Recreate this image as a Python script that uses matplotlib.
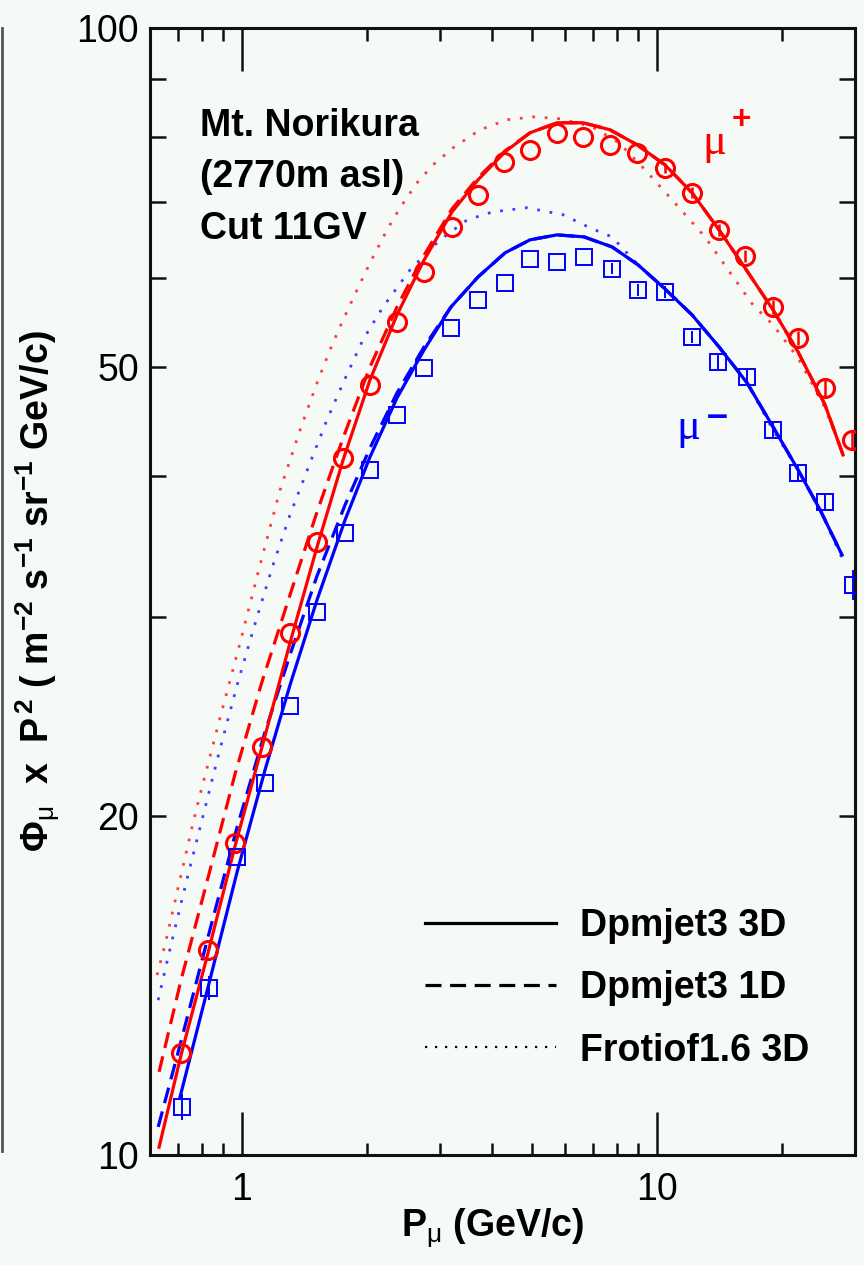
import numpy as np
import matplotlib.pyplot as plt
from matplotlib.lines import Line2D

plt.rcParams['font.family'] = ['Liberation Sans', 'DejaVu Sans']
plt.rcParams['mathtext.fontset'] = 'custom'
plt.rcParams['mathtext.rm'] = 'Liberation Sans:bold'
plt.rcParams['mathtext.it'] = 'Liberation Sans'
plt.rcParams['mathtext.bf'] = 'Liberation Sans:bold'

# measured points (mu+ circles, mu- squares)
p_plus = [0.713, 0.828, 0.962, 1.117, 1.305, 1.516, 1.752, 2.034, 2.363, 2.746, 3.207, 3.705, 4.279,
          4.943, 5.741, 6.633, 7.703, 8.950, 10.45, 12.14, 14.10, 16.29, 19.03, 21.87, 25.40, 29.51]
f_plus = [12.32, 15.20, 18.92, 23.01, 29.05, 34.99, 41.53, 48.22, 54.84, 60.74, 66.60, 71.11, 76.05,
          77.94, 80.70, 80.05, 78.75, 77.47, 75.13, 71.41, 66.20, 62.75, 56.55, 53.07, 47.93, 43.09]
e_plus = [0, 0, 0, 0, 0, 0, 0, 0, 0, 0, 0, 0, 0,
          0, 0, 0, 0, 0, 0.8, 0.8, 0.8, 0.8, 0.8, 0.8, 0.8, 0.8]

p_minus = [0.717, 0.833, 0.973, 1.136, 1.305, 1.516, 1.771, 2.034, 2.363, 2.746, 3.189, 3.705, 4.303,
           4.943, 5.741, 6.670, 7.791, 9.000, 10.45, 12.14, 14.03, 16.48, 19.03, 21.87, 25.40, 29.67]
f_minus = [11.03, 14.07, 18.38, 21.38, 25.02, 30.33, 35.64, 40.54, 45.36, 49.93, 54.18, 57.38, 59.39,
           62.37, 62.00, 62.63, 61.12, 58.54, 58.30, 53.18, 50.53, 49.00, 43.98, 40.29, 37.96, 32.05]
e_minus = [0.3, 0.35, 0, 0, 0, 0, 0, 0, 0, 0, 0, 0, 0,
           0, 0, 0, 0.7, 0.7, 0.7, 0.7, 0.7, 0.7, 0.7, 0.7, 0.7, 1.0]

# Dpmjet3 3D
x_d3_plus = [0.631, 0.713, 0.828, 0.962, 1.117, 1.305, 1.516, 1.752, 2.034, 2.363, 2.730, 3.207, 3.705, 4.303,
             4.943, 5.741, 6.633, 7.703, 8.950, 10.45, 12.14, 14.10, 16.29, 19.03, 21.87, 25.40, 28.07]
y_d3_plus = [10.16, 12.27, 15.11, 18.80, 23.01, 28.47, 34.63, 41.37, 48.72, 55.64, 62.00, 68.67, 73.31, 77.62,
             80.70, 82.37, 82.37, 81.20, 78.75, 75.58, 71.41, 66.20, 61.24, 56.21, 51.58, 46.29, 41.79]
x_d3_minus = [0.709, 0.833, 0.973, 1.136, 1.305, 1.516, 1.771, 2.034, 2.363, 2.746, 3.189, 3.705, 4.303,
              4.943, 5.741, 6.670, 7.791, 9.000, 10.45, 12.14, 14.10, 16.48, 19.03, 21.87, 24.71, 27.91]
y_d3_minus = [11.26, 14.21, 17.83, 21.96, 26.12, 31.08, 36.59, 41.62, 46.96, 51.80, 56.55, 60.12, 63.15,
              64.85, 65.51, 65.24, 63.92, 61.62, 58.66, 55.64, 52.12, 48.42, 44.26, 40.54, 37.36, 34.07]

# Dpmjet3 1D
x_d1_plus = x_d3_plus
y_d1_plus = [11.85, 14.30, 17.62, 21.78, 26.29, 31.40, 37.20, 43.27, 50.03, 56.55, 62.63, 69.10, 73.62, 77.78,
             80.70, 82.37, 82.37, 81.20, 78.75, 75.58, 71.41, 66.20, 61.24, 56.21, 51.58, 46.29, 41.79]
x_d1_minus = [0.628, 0.713, 0.833, 0.973, 1.136, 1.305, 1.516, 1.771, 2.034, 2.363, 2.746, 3.189, 3.705, 4.303,
              4.943, 5.741, 6.670, 7.791, 9.000, 10.45, 12.14, 14.10, 16.48, 19.03, 21.87, 24.71, 27.91]
y_d1_minus = [10.59, 12.62, 15.74, 19.54, 23.73, 27.78, 32.64, 37.73, 42.39, 47.44, 52.12, 56.55, 60.12, 63.15,
              64.85, 65.51, 65.24, 63.92, 61.62, 58.66, 55.64, 52.12, 48.42, 44.26, 40.54, 37.36, 34.07]

# Fritiof1.6 3D
x_fr_plus = [0.624, 0.652, 0.682, 0.721, 0.762, 0.792, 0.885, 0.989, 1.105, 1.235, 1.380, 1.516, 1.629, 1.752,
             1.893, 2.034, 2.236, 2.403, 2.641, 2.886, 3.224, 3.746, 4.350, 5.026, 5.838, 6.973, 8.098, 9.357,
             10.87, 13.05, 15.25, 17.03, 19.03, 21.87, 25.40, 28.07]
y_fr_plus = [14.44, 15.36, 16.50, 18.05, 19.71, 20.87, 24.42, 28.47, 33.38, 38.91, 43.98, 48.42, 51.80, 55.07,
             58.54, 61.87, 66.20, 69.24, 72.86, 75.58, 78.26, 81.20, 82.88, 83.37, 83.05, 81.71, 79.07, 74.82,
             70.38, 65.24, 60.12, 56.78, 54.52, 50.95, 46.00, 41.79]
x_fr_minus = [0.628, 0.659, 0.697, 0.741, 0.792, 0.871, 0.973, 1.087, 1.188, 1.305, 1.458, 1.602, 1.752, 1.956,
              2.187, 2.540, 3.000, 3.485, 4.025, 4.861, 5.935, 6.897, 7.791, 9.000, 10.45, 12.14, 14.10, 16.48,
              19.03, 21.87, 24.71, 27.91]
y_fr_minus = [13.72, 14.83, 16.16, 17.72, 19.51, 22.41, 26.12, 30.02, 33.38, 36.98, 41.11, 44.90, 48.42, 52.87,
              56.55, 60.99, 64.85, 67.54, 68.67, 69.24, 68.26, 66.46, 65.24, 61.62, 58.66, 55.64, 52.12, 48.42,
              43.98, 40.54, 37.36, 33.85]

bg = '#f6faf7'
red = '#ff0000'
blue = '#0000ff'

fig = plt.figure(figsize=(8.64, 12.65), dpi=100, facecolor=bg)
ax = fig.add_axes([0.1736, 0.087, 0.816, 0.891], facecolor=bg)

lw = 2.3
dash = (5, 2.7)
dot = (0, (1, 3.5))
ax.plot(x_fr_plus, y_fr_plus, color=red, lw=2.0, ls=dot, alpha=0.75)
ax.plot(x_fr_minus, y_fr_minus, color=blue, lw=2.0, ls=dot, alpha=0.75)
ax.plot(x_d1_plus, y_d1_plus, color=red, lw=lw, dashes=dash)
ax.plot(x_d1_minus, y_d1_minus, color=blue, lw=lw, dashes=dash)
ax.plot(x_d3_plus, y_d3_plus, color=red, lw=lw)
ax.plot(x_d3_minus, y_d3_minus, color=blue, lw=lw)

ax.errorbar(p_plus, f_plus, yerr=e_plus, fmt='o', ms=13, mfc='none', mec=red, mew=2.2,
            ecolor=red, elinewidth=1.8, capsize=0, zorder=5)
ax.errorbar(p_minus, f_minus, yerr=e_minus, fmt='s', ms=11, mfc='none', mec=blue, mew=1.4,
            ecolor=blue, elinewidth=1.4, capsize=0, zorder=5)

ax.set_xscale('log')
ax.set_yscale('log')
ax.set_xlim(0.6, 30)
ax.set_ylim(10, 100)

ax.set_xticks([1, 10])
ax.set_xticklabels(['1', '10'])
ax.set_xticks([0.7, 0.8, 0.9, 2, 3, 4, 5, 6, 7, 8, 9, 20], minor=True)
ax.set_yticks([10, 20, 50, 100])
ax.set_yticklabels(['10', '20', '50', '100'])
ax.set_yticks([30, 40, 60, 70, 80, 90], minor=True)
ax.yaxis.set_minor_formatter(plt.NullFormatter())
ax.xaxis.set_minor_formatter(plt.NullFormatter())

ax.tick_params(axis='both', which='both', direction='in', top=True, right=True, width=1.8, color='#111111')
ax.tick_params(axis='x', which='major', length=31, labelsize=27, pad=12)
ax.tick_params(axis='x', which='minor', length=9)
ax.tick_params(axis='y', which='both', length=11.5, labelsize=27, pad=8)
for s in ax.spines.values():
    s.set_linewidth(2.2)
    s.set_color('#111111')

ax.set_xlabel(r'P$_{\mathit{\mu}}$ (GeV/c)', fontsize=27, fontweight='bold')
ax.xaxis.set_label_coords(0.486, -0.046)
ax.set_ylabel(r'$\mathit{\Phi}_{\mathit{\mu}}$  x  P$^{\,2}$ ( m$^{-2}$ s$^{-1}$ sr$^{-1}$ GeV/c)',
              fontsize=27, fontweight='bold', labelpad=10)

ax.text(0.071, 0.929, 'Mt. Norikura\n(2770m asl)\nCut 11GV', transform=ax.transAxes,
        fontsize=27, fontweight='bold', va='top', ha='left', linespacing=1.55)

ax.text(0.784, 0.898, '\u03bc', transform=ax.transAxes, color=red, fontsize=32,
        family='Liberation Serif', ha='left', va='center')
ax.text(0.825, 0.918, '+', transform=ax.transAxes, color=red, fontsize=24,
        fontweight='bold', ha='left', va='center')
ax.text(0.747, 0.645, '\u03bc', transform=ax.transAxes, color=blue, fontsize=32,
        family='Liberation Serif', ha='left', va='center')
ax.text(0.790, 0.655, '\u2013', transform=ax.transAxes, color=blue, fontsize=27,
        fontweight='bold', ha='left', va='center')

handles = [Line2D([], [], color='k', lw=2.3),
           Line2D([], [], color='k', lw=2.3, dashes=dash),
           Line2D([], [], color='k', lw=1.6, ls=dot)]
labels = ['Dpmjet3 3D', 'Dpmjet3 1D', 'Frotiof1.6 3D']
ax.legend(handles, labels, loc='upper left', bbox_to_anchor=(0.39, 0.219), frameon=False,
          borderaxespad=0, borderpad=0, handlelength=3.5, handletextpad=0.64, labelspacing=0.7,
          prop={'weight': 'bold', 'size': 27})

fig.add_artist(Line2D([0.002, 0.002], [0.09, 0.978], color='#555555', lw=2))

fig.savefig('out.png', dpi=100, facecolor=bg)
